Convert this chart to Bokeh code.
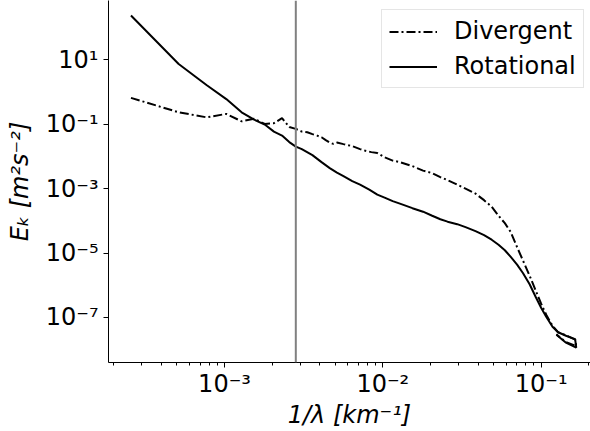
from bokeh.plotting import figure
from bokeh.models import Span, FixedTicker, Legend, LegendItem, Range1d
from bokeh.embed import file_html
from bokeh.resources import INLINE

# wavenumber 1/lambda [km^-1] and kinetic energy spectra [m^2 s^-2]
k_rot = [2.564e-4, 5.13e-4, 7.69e-4, 1.026e-3, 1.282e-3, 1.538e-3, 1.795e-3, 2.051e-3,
         2.308e-3, 2.564e-3, 2.821e-3, 3.077e-3, 3.590e-3, 4.10e-3, 4.62e-3, 5.13e-3,
         5.64e-3, 6.41e-3, 7.18e-3, 8.21e-3, 9.23e-3, 1.026e-2, 1.154e-2, 1.282e-2,
         1.538e-2, 1.795e-2, 2.051e-2, 2.308e-2, 2.564e-2, 2.95e-2, 3.33e-2, 3.85e-2,
         4.36e-2, 4.87e-2, 5.38e-2, 5.90e-2, 6.41e-2, 7.05e-2, 7.69e-2, 8.46e-2,
         9.23e-2, 0.100, 0.1077, 0.118, 0.128, 0.1436, 0.164, 0.1667, 0.1424, 0.1249]
E_rot = [238, 7.40, 1.65, 0.604, 0.235, 0.139, 0.0975, 0.0590,
         0.0444, 0.0279, 0.0202, 0.0169, 0.0110, 6.65e-3, 4.34e-3, 3.14e-3,
         2.44e-3, 1.71e-3, 1.33e-3, 9.29e-4, 6.50e-4, 5.25e-4, 4.08e-4, 3.41e-4,
         2.47e-4, 1.92e-4, 1.44e-4, 1.12e-4, 9.42e-5, 7.87e-5, 6.36e-5, 4.77e-5,
         3.58e-5, 2.59e-5, 1.81e-5, 1.22e-5, 7.69e-6, 4.34e-6, 2.36e-6, 1.07e-6,
         4.39e-7, 2.00e-7, 1.05e-7, 5.13e-8, 3.46e-8, 2.69e-8, 2.12e-8, 1.16e-8, 1.69e-8, 2.89e-8]

k_div = [2.564e-4, 5.13e-4, 7.69e-4, 1.026e-3, 1.282e-3, 1.538e-3, 1.795e-3, 2.051e-3,
         2.308e-3, 2.564e-3, 2.821e-3, 3.077e-3, 3.333e-3, 3.590e-3, 3.846e-3, 4.10e-3,
         4.36e-3, 4.62e-3, 4.87e-3, 5.13e-3, 5.64e-3, 6.41e-3, 7.18e-3, 7.69e-3,
         8.46e-3, 9.23e-3, 1.026e-2, 1.154e-2, 1.282e-2, 1.538e-2, 1.795e-2, 2.051e-2,
         2.308e-2, 2.564e-2, 2.95e-2, 3.33e-2, 3.85e-2, 4.36e-2, 4.87e-2, 5.38e-2,
         5.90e-2, 6.41e-2, 7.05e-2, 7.69e-2, 8.46e-2, 9.23e-2, 0.100, 0.1077,
         0.118, 0.128, 0.1436, 0.164, 0.1667, 0.1424, 0.1249]
E_div = [0.659, 0.235, 0.164, 0.209, 0.123, 0.147, 0.1025, 0.107,
         0.155, 0.0815, 0.0716, 0.0590, 0.0561, 0.0493, 0.0443, 0.0393,
         0.0321, 0.0269, 0.0245, 0.0269, 0.0241, 0.0209, 0.0169, 0.0152,
         0.0136, 0.0127, 9.38e-3, 7.41e-3, 6.65e-3, 5.00e-3, 3.62e-3, 3.03e-3,
         2.28e-3, 1.84e-3, 1.33e-3, 9.98e-4, 6.98e-4, 4.38e-4, 2.75e-4, 1.44e-4,
         8.45e-5, 4.60e-5, 1.52e-5, 5.77e-6, 1.97e-6, 6.98e-7, 2.66e-7, 1.21e-7,
         5.51e-8, 3.46e-8, 2.79e-8, 2.05e-8, 1.27e-8, 1.75e-8, 2.99e-8]

k_mark = 2.82e-3

x_major = [1e-3, 1e-2, 1e-1]
x_labels = ["10\u207b\u00b3", "10\u207b\u00b2", "10\u207b\u00b9"]
y_major = [1e1, 1e-1, 1e-3, 1e-5, 1e-7]
y_labels = ["10\u00b9", "10\u207b\u00b9", "10\u207b\u00b3", "10\u207b\u2075", "10\u207b\u2077"]
series_names = ["Divergent", "Rotational"]
x_title = "1/\u03bb [km\u207b\u00b9]"
y_title = "E\u2096 [m\u00b2s\u207b\u00b2]"

FONT = "DejaVu Sans"
FL, FB = 108, 362  # frame left / bottom in the canvas

p = figure(width=590, height=431, x_axis_type="log", y_axis_type="log",
           x_range=Range1d(1.849e-4, 0.2051), y_range=Range1d(3.98e-9, 696),
           output_backend="svg", toolbar_location=None,
           min_border_left=FL, min_border_right=0, min_border_top=0, min_border_bottom=431 - FB)
p.outline_line_color = None
p.grid.visible = False
p.background_fill_color = "white"
p.border_fill_color = "white"

r_div = p.line(k_div, E_div, line_color="black", line_width=2, line_dash="9 3 2 3")
r_rot = p.line(k_rot, E_rot, line_color="black", line_width=2)

p.add_layout(Span(location=k_mark, dimension="height", line_color="gray", line_width=2))

minor_x = [m * 10.0 ** e for e in (-4, -3, -2, -1) for m in range(2, 10)]
p.xaxis.ticker = FixedTicker(ticks=x_major, minor_ticks=minor_x)
p.yaxis.ticker = FixedTicker(ticks=y_major, minor_ticks=[])
p.xaxis.major_label_overrides = dict(zip(x_major, x_labels))
p.yaxis.major_label_overrides = dict(zip(y_major, y_labels))

for ax in (p.xaxis, p.yaxis):
    ax.axis_line_color = "black"
    ax.axis_line_width = 1
    ax.major_tick_line_color = "black"
    ax.minor_tick_line_color = "black"
    ax.major_tick_in = 0
    ax.major_tick_out = 5
    ax.minor_tick_in = 0
    ax.minor_tick_out = 3
    ax.major_label_text_font = FONT
    ax.major_label_text_font_size = "24px"
    ax.major_label_text_color = "black"
    ax.axis_label_text_font = FONT
    ax.axis_label_text_font_size = "24px"
    ax.axis_label_text_font_style = "italic"
    ax.axis_label_text_color = "black"

p.xaxis.axis_label = x_title
p.yaxis.axis_label = y_title
p.xaxis.major_label_standoff = 2
p.yaxis.major_label_standoff = 5
p.xaxis.axis_label_standoff = 0
p.yaxis.axis_label_standoff = 9

legend = Legend(items=[LegendItem(label=series_names[0], renderers=[r_div]),
                       LegendItem(label=series_names[1], renderers=[r_rot])],
                location=(381 - FL, FB - 88), margin=0, padding=7, spacing=7,
                glyph_width=48, glyph_height=27, label_height=27, label_standoff=17,
                label_text_font=FONT, label_text_font_size="24px", label_text_color="black",
                border_line_color="#cccccc", border_line_width=1,
                background_fill_color="white", background_fill_alpha=0.8)
p.add_layout(legend)

open("out.html", "w").write(file_html(p, INLINE))
